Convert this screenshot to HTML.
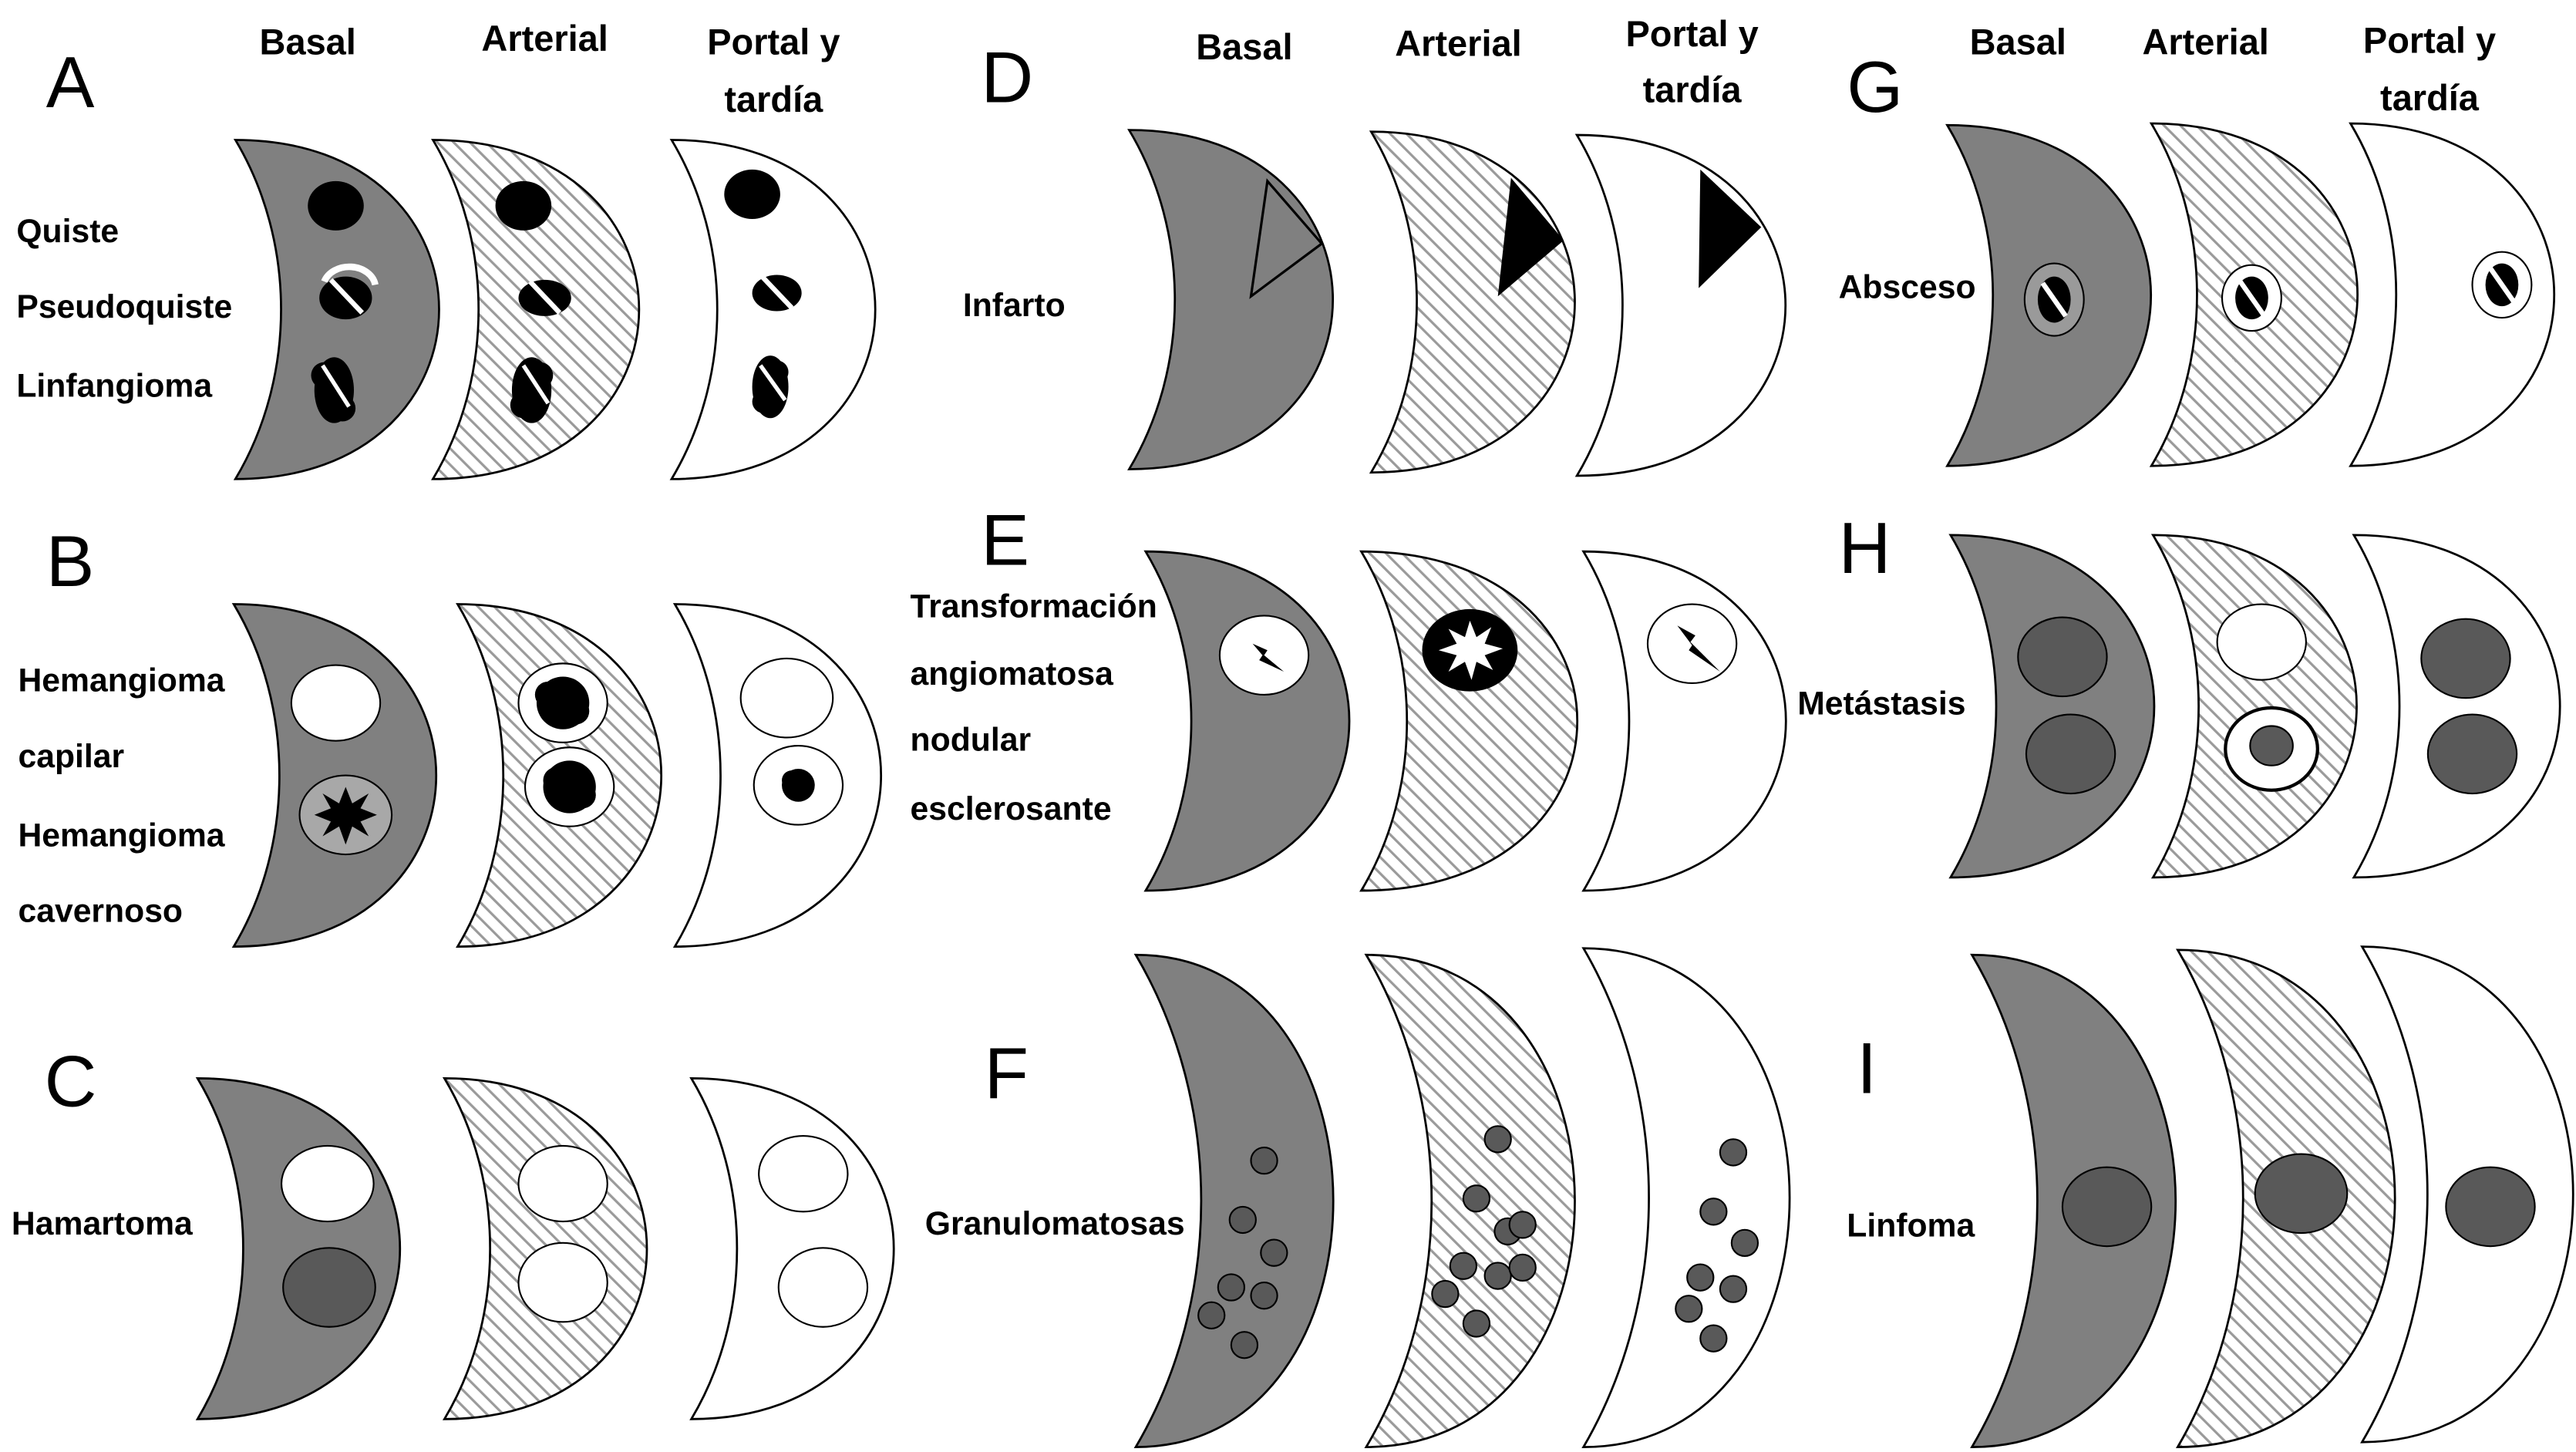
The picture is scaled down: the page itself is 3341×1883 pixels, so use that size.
<!DOCTYPE html>
<html><head><meta charset="utf-8"><style>
html,body{margin:0;padding:0;background:#fff;}
svg{display:block;}
text{font-family:"Liberation Sans",sans-serif;fill:#000;}
.h{font-size:22px;font-weight:bold;text-anchor:middle;}
.l{font-size:20px;font-weight:bold;}
.L{font-size:44px;}
.g{fill:#808080;stroke:#000;stroke-width:1.3;}
.s{fill:url(#hatch);stroke:#000;stroke-width:1.3;}
.w{fill:#fff;stroke:#000;stroke-width:1.3;}
.dk{fill:#595959;stroke:#000;stroke-width:1;}
.wc{fill:#fff;stroke:#000;stroke-width:1;}
</style></head><body>
<svg width="3341" height="1883" viewBox="0 0 1565 882" preserveAspectRatio="none" xmlns="http://www.w3.org/2000/svg">
<defs>
<pattern id="hatch" width="7" height="7" patternUnits="userSpaceOnUse" patternTransform="rotate(-45)">
<rect width="7" height="7" fill="#fff"/>
<line x1="0" y1="0" x2="0" y2="7" stroke="#9a9a9a" stroke-width="3"/>
</pattern>
</defs>

<!-- headers -->
<text class="h" x="187" y="33">Basal</text>
<text class="h" x="331" y="31">Arterial</text>
<text class="h" x="470" y="33">Portal y</text>
<text class="h" x="470" y="68">tardía</text>
<text class="h" x="756" y="36">Basal</text>
<text class="h" x="886" y="34">Arterial</text>
<text class="h" x="1028" y="28">Portal y</text>
<text class="h" x="1028" y="62">tardía</text>
<text class="h" x="1226" y="33">Basal</text>
<text class="h" x="1340" y="33">Arterial</text>
<text class="h" x="1476" y="32">Portal y</text>
<text class="h" x="1476" y="67">tardía</text>

<!-- letters -->
<text class="L" x="28" y="65">A</text>
<text class="L" x="596" y="62">D</text>
<text class="L" x="1122" y="68">G</text>
<text class="L" x="28" y="356">B</text>
<text class="L" x="596" y="343">E</text>
<text class="L" x="1117" y="348">H</text>
<text class="L" x="27" y="672">C</text>
<text class="L" x="598" y="667">F</text>
<text class="L" x="1128" y="664">I</text>

<!-- labels -->
<text class="l" x="10" y="147">Quiste</text>
<text class="l" x="10" y="193">Pseudoquiste</text>
<text class="l" x="10" y="241">Linfangioma</text>
<text class="l" x="11" y="420">Hemangioma</text>
<text class="l" x="11" y="466">capilar</text>
<text class="l" x="11" y="514">Hemangioma</text>
<text class="l" x="11" y="560">cavernoso</text>
<text class="l" x="7" y="750">Hamartoma</text>
<text class="l" x="585" y="192">Infarto</text>
<text class="l" x="553" y="375">Transformación</text>
<text class="l" x="553" y="416">angiomatosa</text>
<text class="l" x="553" y="456">nodular</text>
<text class="l" x="553" y="498">esclerosante</text>
<text class="l" x="562" y="750">Granulomatosas</text>
<text class="l" x="1117" y="181">Absceso</text>
<text class="l" x="1092" y="434">Metástasis</text>
<text class="l" x="1122" y="751">Linfoma</text>

<!-- crescents -->
<path class="g" d="M143 85 C308 85 308 291 143 291 C180 229 180 147 143 85Z"/>
<path class="s" d="M263 85 C430 85 430 291 263 291 C300 229 300 147 263 85Z"/>
<path class="w" d="M408 85 C573 85 573 291 408 291 C445 229 445 147 408 85Z"/>
<path class="g" d="M686 79 C851 79 851 285 686 285 C723 223 723 141 686 79Z"/>
<path class="s" d="M833 80 C998 80 998 287 833 287 C870 225 870 142 833 80Z"/>
<path class="w" d="M958 82 C1127 82 1127 289 958 289 C995 227 995 144 958 82Z"/>
<path class="g" d="M1183 76 C1348 76 1348 283 1183 283 C1220 221 1220 138 1183 76Z"/>
<path class="s" d="M1307 75 C1474 75 1474 283 1307 283 C1344 221 1344 137 1307 75Z"/>
<path class="w" d="M1428 75 C1593 75 1593 283 1428 283 C1465 221 1465 137 1428 75Z"/>

<path class="g" d="M142 367 C306 367 306 575 142 575 C179 513 179 429 142 367Z"/>
<path class="s" d="M278 367 C443 367 443 575 278 575 C315 513 315 429 278 367Z"/>
<path class="w" d="M410 367 C577 367 577 575 410 575 C447 513 447 429 410 367Z"/>
<path class="g" d="M696 335 C861 335 861 541 696 541 C733 479 733 397 696 335Z"/>
<path class="s" d="M827 335 C1002 335 1002 541 827 541 C864 479 864 397 827 335Z"/>
<path class="w" d="M962 335 C1126 335 1126 541 962 541 C999 479 999 397 962 335Z"/>
<path class="g" d="M1185 325 C1350 325 1350 533 1185 533 C1222 471 1222 387 1185 325Z"/>
<path class="s" d="M1308 325 C1473 325 1473 533 1308 533 C1345 471 1345 387 1308 325Z"/>
<path class="w" d="M1430 325 C1597 325 1597 533 1430 533 C1467 471 1467 387 1430 325Z"/>

<path class="g" d="M120 655 C284 655 284 862 120 862 C157 800 157 717 120 655Z"/>
<path class="s" d="M270 655 C434 655 434 862 270 862 C307 800 307 717 270 655Z"/>
<path class="w" d="M420 655 C584 655 584 862 420 862 C457 800 457 717 420 655Z"/>
<path class="g" d="M690 580 C850 580 850 879 690 879 C743 789 743 670 690 580Z"/>
<path class="s" d="M830 580 C999 580 999 879 830 879 C883 789 883 670 830 580Z"/>
<path class="w" d="M962 576 C1129 576 1129 879 962 879 C1015 788 1015 667 962 576Z"/>
<path class="g" d="M1198 580 C1363 580 1363 879 1198 879 C1251 789 1251 670 1198 580Z"/>
<path class="s" d="M1323 577 C1499 577 1499 879 1323 879 C1376 788 1376 668 1323 577Z"/>
<path class="w" d="M1435 575 C1606 575 1606 876 1435 876 C1488 786 1488 665 1435 575Z"/>

<!-- A lesions -->
<ellipse cx="204" cy="125" rx="17" ry="15"/>
<ellipse cx="318" cy="125" rx="17" ry="15"/>
<ellipse cx="457" cy="118" rx="17" ry="15"/>
<path d="M197 171 A16 13 0 0 1 228 173" fill="none" stroke="#fff" stroke-width="4"/>
<ellipse cx="210" cy="181" rx="16" ry="13"/>
<ellipse cx="331" cy="181" rx="16" ry="11"/>
<ellipse cx="472" cy="178" rx="15" ry="11"/>
<g stroke="#fff" stroke-width="3">
<line x1="201" y1="170" x2="220" y2="190"/>
<line x1="322" y1="171" x2="340" y2="190"/>
<line x1="463" y1="168" x2="481" y2="187"/>
</g>
<g>
<ellipse cx="203" cy="237" rx="12" ry="20"/><circle cx="197" cy="228" r="8"/><circle cx="208" cy="248" r="8"/>
<ellipse cx="323" cy="237" rx="12" ry="20"/><circle cx="318" cy="246" r="8"/><circle cx="328" cy="228" r="8"/>
<ellipse cx="468" cy="235" rx="11" ry="19"/><circle cx="464" cy="244" r="7"/><circle cx="472" cy="226" r="7"/>
</g>
<g stroke="#fff" stroke-width="2.5">
<line x1="196" y1="222" x2="212" y2="247"/>
<line x1="318" y1="222" x2="333" y2="245"/>
<line x1="462" y1="222" x2="477" y2="243"/>
</g>

<!-- B lesions -->
<ellipse class="wc" cx="204" cy="427" rx="27" ry="23"/>
<ellipse cx="210" cy="495" rx="28" ry="24" fill="#a8a8a8" stroke="#000"/>
<polygon points="210,478 214,488 224,482 219,491 229,495 219,499 224,508 214,502 210,513 206,502 196,508 201,499 191,495 201,491 196,482 206,488"/>
<ellipse class="wc" cx="342" cy="427" rx="27" ry="24"/>
<ellipse class="wc" cx="346" cy="478" rx="27" ry="24"/>
<g><circle cx="342" cy="427" r="16"/><circle cx="333" cy="422" r="8"/><circle cx="350" cy="432" r="8"/><circle cx="346" cy="478" r="16"/><circle cx="338" cy="474" r="8"/><circle cx="354" cy="483" r="8"/></g>
<ellipse class="wc" cx="478" cy="424" rx="28" ry="24"/>
<ellipse class="wc" cx="485" cy="477" rx="27" ry="24"/>
<circle cx="485" cy="477" r="10"/><circle cx="481" cy="474" r="6"/>

<!-- C lesions -->
<ellipse class="wc" cx="199" cy="719" rx="28" ry="23"/>
<ellipse class="dk" cx="200" cy="782" rx="28" ry="24"/>
<ellipse class="wc" cx="342" cy="719" rx="27" ry="23"/>
<ellipse class="wc" cx="342" cy="779" rx="27" ry="24"/>
<ellipse class="wc" cx="488" cy="713" rx="27" ry="23"/>
<ellipse class="wc" cx="500" cy="782" rx="27" ry="24"/>

<!-- D -->
<polygon points="770,110 803,148 760,180" fill="none" stroke="#000" stroke-width="1.5"/>
<polygon points="918,108 950,146 910,180"/>
<polygon points="1033,103 1070,138 1032,175"/>

<!-- E -->
<ellipse class="wc" cx="768" cy="398" rx="27" ry="24"/>
<polygon points="761,391 770,395 768,398 780,408 765,401 767,398"/>
<ellipse cx="893" cy="395" rx="29" ry="25"/>
<polygon fill="#fff" points="893,377 897,387 906,381 902,391 913,394 902,398 907,407 897,402 894,413 890,402 880,408 885,398 874,395 885,391 880,382 890,387"/>
<ellipse class="wc" cx="1028" cy="391" rx="27" ry="24"/>
<polygon points="1019,380 1030,386 1027,390 1045,408 1026,395 1028,392"/>

<!-- F -->
<g class="dk">
<ellipse cx="768" cy="705" rx="8" ry="8"/><ellipse cx="755" cy="741" rx="8" ry="8"/><ellipse cx="774" cy="761" rx="8" ry="8"/><ellipse cx="748" cy="782" rx="8" ry="8"/><ellipse cx="768" cy="787" rx="8" ry="8"/><ellipse cx="736" cy="799" rx="8" ry="8"/><ellipse cx="756" cy="817" rx="8" ry="8"/>
<ellipse cx="910" cy="692" rx="8" ry="8"/><ellipse cx="897" cy="728" rx="8" ry="8"/><ellipse cx="916" cy="748" rx="8" ry="8"/><ellipse cx="925" cy="744" rx="8" ry="8"/><ellipse cx="889" cy="769" rx="8" ry="8"/><ellipse cx="910" cy="775" rx="8" ry="8"/><ellipse cx="925" cy="770" rx="8" ry="8"/><ellipse cx="878" cy="786" rx="8" ry="8"/><ellipse cx="897" cy="804" rx="8" ry="8"/>
<ellipse cx="1053" cy="700" rx="8" ry="8"/><ellipse cx="1041" cy="736" rx="8" ry="8"/><ellipse cx="1060" cy="755" rx="8" ry="8"/><ellipse cx="1033" cy="776" rx="8" ry="8"/><ellipse cx="1053" cy="783" rx="8" ry="8"/><ellipse cx="1026" cy="795" rx="8" ry="8"/><ellipse cx="1041" cy="813" rx="8" ry="8"/>
</g>

<!-- G -->
<ellipse cx="1248" cy="182" rx="18" ry="22" fill="#9a9a9a" stroke="#000"/>
<ellipse cx="1248" cy="182" rx="10" ry="14"/>
<ellipse class="wc" cx="1368" cy="181" rx="18" ry="20"/>
<ellipse cx="1368" cy="181" rx="10" ry="13"/>
<ellipse class="wc" cx="1520" cy="173" rx="18" ry="20" stroke-width="1.5"/>
<ellipse cx="1520" cy="173" rx="10" ry="13"/>
<g stroke="#fff" stroke-width="3">
<line x1="1241" y1="172" x2="1255" y2="192"/>
<line x1="1361" y1="171" x2="1375" y2="191"/>
<line x1="1513" y1="163" x2="1527" y2="183"/>
</g>

<!-- H -->
<ellipse class="dk" cx="1253" cy="399" rx="27" ry="24"/>
<ellipse class="dk" cx="1258" cy="458" rx="27" ry="24"/>
<ellipse class="wc" cx="1374" cy="390" rx="27" ry="23"/>
<ellipse cx="1380" cy="455" rx="28" ry="25" fill="#fff" stroke="#000" stroke-width="2"/>
<ellipse class="dk" cx="1380" cy="453" rx="13" ry="12"/>
<ellipse class="dk" cx="1498" cy="400" rx="27" ry="24"/>
<ellipse class="dk" cx="1502" cy="458" rx="27" ry="24"/>

<!-- I -->
<ellipse class="dk" cx="1280" cy="733" rx="27" ry="24"/>
<ellipse class="dk" cx="1398" cy="725" rx="28" ry="24"/>
<ellipse class="dk" cx="1513" cy="733" rx="27" ry="24"/>
</svg>
</body></html>
